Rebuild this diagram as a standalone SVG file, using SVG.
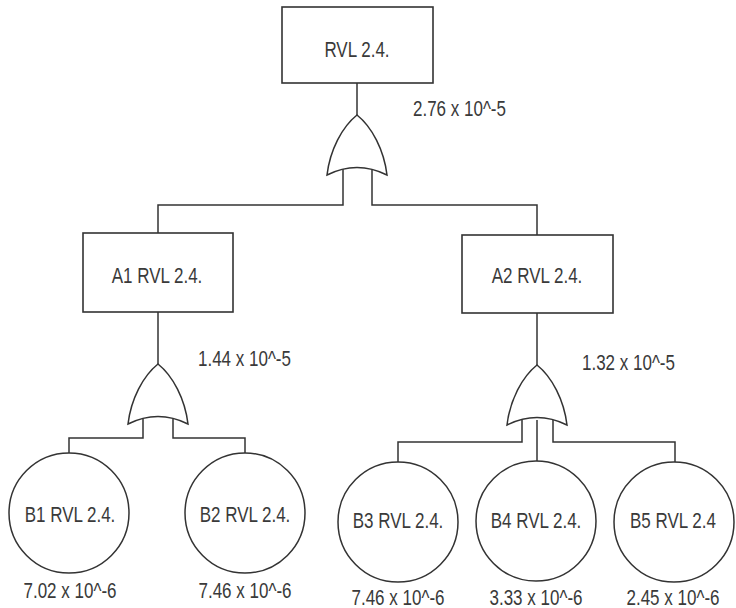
<svg xmlns="http://www.w3.org/2000/svg" xmlns:xlink="http://www.w3.org/1999/xlink" width="736" height="608" viewBox="0 0 736 608">
<style>
.box{fill:#fff;stroke:#333;stroke-width:1.6}
.ev{fill:#fff;stroke:#333;stroke-width:1.5}
.gate{fill:#fff;stroke:#333;stroke-width:1.5;stroke-linejoin:miter}
.wire{fill:none;stroke:#333;stroke-width:1.5}
.t{font-family:"Liberation Sans",Arial,sans-serif;font-size:17px;fill:#3a3a3a}
.c{text-anchor:middle}
</style>
<defs>
<path id="or" d="M0,0 C15,12 27,35 30,60 Q0,45 -30,60 C-27,35 -15,12 0,0 Z"/>
</defs>
<rect width="736" height="608" fill="#fff"/>
<g id="connectors">
<path class="wire" d="M357,83 V115"/>
<path class="wire" d="M343,168 V205 H158 V233"/>
<path class="wire" d="M372,168 V205 H537 V235"/>
<path class="wire" d="M158,312 V364"/>
<path class="wire" d="M143,418 V438 H69 V453"/>
<path class="wire" d="M173,418 V438 H245 V453"/>
<path class="wire" d="M537,313 V365"/>
<path class="wire" d="M522,420 V442 H398 V462"/>
<path class="wire" d="M537,420 V461"/>
<path class="wire" d="M553,420 V442 H675 V462"/>
</g>
<g id="top">
<rect class="box" x="282" y="7" width="151" height="76"/>
<text class="t c" transform="translate(357,57) scale(1,1.3)">RVL 2.4.</text>
</g>
<g id="gate-top">
<use xlink:href="#or" href="#or" class="gate" x="357" y="115"/>
<text class="t" transform="translate(413,116) scale(1,1.3)">2.76 x 10^-5</text>
</g>
<g id="A1">
<rect class="box" x="83" y="233" width="150" height="79"/>
<text class="t c" transform="translate(157,283) scale(1,1.3)">A1 RVL 2.4.</text>
</g>
<g id="gate-A1">
<use xlink:href="#or" href="#or" class="gate" x="158" y="364"/>
<text class="t" transform="translate(198,366) scale(1,1.3)">1.44 x 10^-5</text>
</g>
<g id="A2">
<rect class="box" x="462" y="235" width="151" height="78"/>
<text class="t c" transform="translate(537,283) scale(1,1.3)">A2 RVL 2.4.</text>
</g>
<g id="gate-A2">
<use xlink:href="#or" href="#or" class="gate" x="537" y="365"/>
<text class="t" transform="translate(582,370) scale(1,1.3)">1.32 x 10^-5</text>
</g>
<g id="B1">
<ellipse class="ev" cx="69" cy="513" rx="60" ry="60"/>
<text class="t c" transform="translate(70,522) scale(1,1.3)">B1 RVL 2.4.</text>
<text class="t c" transform="translate(70,598) scale(1,1.3)">7.02 x 10^-6</text>
</g>
<g id="B2">
<ellipse class="ev" cx="245" cy="513" rx="60" ry="60"/>
<text class="t c" transform="translate(245,522) scale(1,1.3)">B2 RVL 2.4.</text>
<text class="t c" transform="translate(245,598) scale(1,1.3)">7.46 x 10^-6</text>
</g>
<g id="B3">
<ellipse class="ev" cx="398" cy="522" rx="60" ry="60"/>
<text class="t c" transform="translate(398,528) scale(1,1.3)">B3 RVL 2.4.</text>
<text class="t c" transform="translate(398,605) scale(1,1.3)">7.46 x 10^-6</text>
</g>
<g id="B4">
<ellipse class="ev" cx="536" cy="521" rx="60" ry="60"/>
<text class="t c" transform="translate(536,528) scale(1,1.3)">B4 RVL 2.4.</text>
<text class="t c" transform="translate(536,605) scale(1,1.3)">3.33 x 10^-6</text>
</g>
<g id="B5">
<ellipse class="ev" cx="674" cy="522" rx="60" ry="60"/>
<text class="t c" transform="translate(673,528) scale(1,1.3)">B5 RVL 2.4</text>
<text class="t c" transform="translate(673,605) scale(1,1.3)">2.45 x 10^-6</text>
</g>
</svg>
